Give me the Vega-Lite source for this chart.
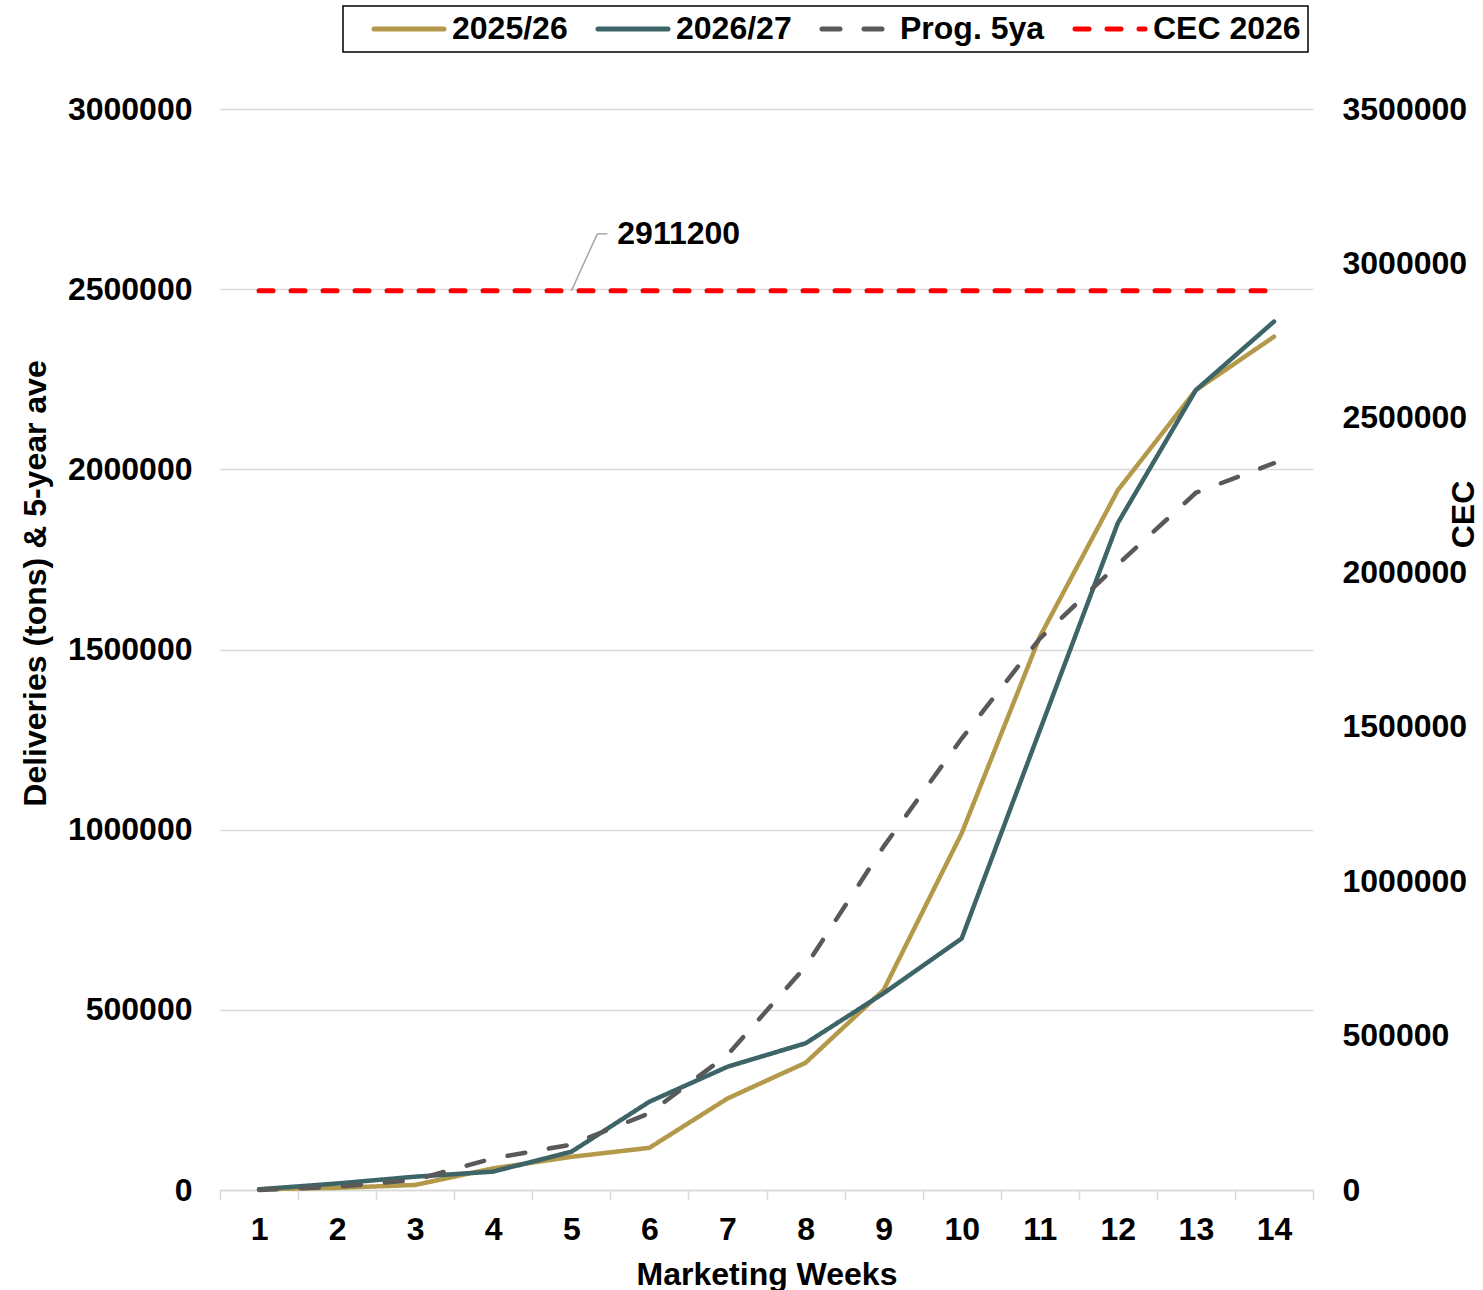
{
  "$schema": "https://vega.github.io/schema/vega-lite/v6.json",
  "width": 1093,
  "height": 1081,
  "autosize": {"type": "none"},
  "padding": {"left": 220, "top": 109, "right": 170, "bottom": 100},
  "background": "white",
  "config": {
    "view": {"stroke": null},
    "font": "Liberation Sans",
    "legend": {"strokeWidth": 1.5}
  },
  "datasets": {
    "deliveries": [
      {"week": 1, "series": "2025/26", "value": 2000},
      {"week": 2, "series": "2025/26", "value": 6000},
      {"week": 3, "series": "2025/26", "value": 14000},
      {"week": 4, "series": "2025/26", "value": 60000},
      {"week": 5, "series": "2025/26", "value": 92000},
      {"week": 6, "series": "2025/26", "value": 117000},
      {"week": 7, "series": "2025/26", "value": 254000},
      {"week": 8, "series": "2025/26", "value": 353000},
      {"week": 9, "series": "2025/26", "value": 555000},
      {"week": 10, "series": "2025/26", "value": 990000},
      {"week": 11, "series": "2025/26", "value": 1535000},
      {"week": 12, "series": "2025/26", "value": 1942000},
      {"week": 13, "series": "2025/26", "value": 2220000},
      {"week": 14, "series": "2025/26", "value": 2368000},
      {"week": 1, "series": "2026/27", "value": 2000},
      {"week": 2, "series": "2026/27", "value": 18000},
      {"week": 3, "series": "2026/27", "value": 37000},
      {"week": 4, "series": "2026/27", "value": 51000},
      {"week": 5, "series": "2026/27", "value": 106000},
      {"week": 6, "series": "2026/27", "value": 245000},
      {"week": 7, "series": "2026/27", "value": 342000},
      {"week": 8, "series": "2026/27", "value": 407000},
      {"week": 9, "series": "2026/27", "value": 546000},
      {"week": 10, "series": "2026/27", "value": 698000},
      {"week": 11, "series": "2026/27", "value": 1275000},
      {"week": 12, "series": "2026/27", "value": 1851000},
      {"week": 13, "series": "2026/27", "value": 2220000},
      {"week": 14, "series": "2026/27", "value": 2410000},
      {"week": 1, "series": "Prog. 5ya", "value": 0},
      {"week": 2, "series": "Prog. 5ya", "value": 9000},
      {"week": 3, "series": "Prog. 5ya", "value": 28000},
      {"week": 4, "series": "Prog. 5ya", "value": 88000},
      {"week": 5, "series": "Prog. 5ya", "value": 126000},
      {"week": 6, "series": "Prog. 5ya", "value": 213000},
      {"week": 7, "series": "Prog. 5ya", "value": 375000},
      {"week": 8, "series": "Prog. 5ya", "value": 620000},
      {"week": 9, "series": "Prog. 5ya", "value": 953000},
      {"week": 10, "series": "Prog. 5ya", "value": 1253000},
      {"week": 11, "series": "Prog. 5ya", "value": 1530000},
      {"week": 12, "series": "Prog. 5ya", "value": 1736000},
      {"week": 13, "series": "Prog. 5ya", "value": 1935000},
      {"week": 14, "series": "Prog. 5ya", "value": 2017000}
    ],
    "cec": [
      {"series": "CEC 2026", "cec": 2911200, "start": 1, "end": 14, "label": "2911200"}
    ]
  },
  "layer": [
    {
      "data": {"name": "deliveries"},
      "mark": {"type": "line", "strokeWidth": 4.5, "strokeCap": "round"},
      "encoding": {
        "x": {
          "field": "week",
          "type": "quantitative",
          "scale": {"domain": [0.5, 14.5], "nice": false, "zero": false},
          "axis": {
            "orient": "bottom",
            "values": [1, 2, 3, 4, 5, 6, 7, 8, 9, 10, 11, 12, 13, 14],
            "format": "d",
            "title": "Marketing Weeks",
            "titleFont": "Liberation Sans",
            "titleFontSize": 32,
            "titleFontWeight": "bold",
            "titleColor": "black",
            "titleBaseline": "alphabetic",
            "titleY": 94,
            "labelFont": "Liberation Sans",
            "labelFontSize": 32,
            "labelFontWeight": "bold",
            "labelColor": "black",
            "labelBaseline": "alphabetic",
            "labelPadding": 49,
            "labelOverlap": false,
            "labelFlush": false,
            "ticks": false,
            "domain": false,
            "grid": false
          }
        },
        "y": {
          "field": "value",
          "type": "quantitative",
          "scale": {"domain": [0, 3000000], "nice": false},
          "axis": {
            "values": [0, 500000, 1000000, 1500000, 2000000, 2500000, 3000000],
            "format": "d",
            "title": "Deliveries (tons) & 5-year ave",
            "titleFont": "Liberation Sans",
            "titleFontSize": 32,
            "titleFontWeight": "bold",
            "titleColor": "black",
            "titleAngle": 270,
            "titleAlign": "center",
            "titleBaseline": "middle",
            "titleX": -185,
            "titleY": 474,
            "labelFont": "Liberation Sans",
            "labelFontSize": 32,
            "labelFontWeight": "bold",
            "labelColor": "black",
            "labelPadding": 28,
            "ticks": false,
            "domain": false,
            "grid": true,
            "gridColor": "#d9d9d9",
            "gridWidth": 1.3
          }
        },
        "color": {
          "field": "series",
          "type": "nominal",
          "scale": {
            "domain": ["2025/26", "2026/27", "Prog. 5ya", "CEC 2026"],
            "range": ["#B5994A", "#3D6567", "#595959", "#FF0000"]
          },
          "legend": {
            "orient": "none",
            "legendX": 123,
            "legendY": -103,
            "direction": "horizontal",
            "columns": 4,
            "title": null,
            "symbolType": "M-3.5,0H3.5",
            "symbolSize": 400,
            "symbolStrokeWidth": 5,
            "symbolOffset": 43,
            "labelOffset": 27,
            "labelFont": "Liberation Sans",
            "labelFontSize": 32,
            "labelFontWeight": "bold",
            "labelColor": "black",
            "labelLimit": 400,
            "columnPadding": 6,
            "padding": 7,
            "strokeColor": "black",
            "fillColor": "white",
            "encode": {"symbols": {"update": {"strokeCap": {"value": "round"}}}}
          }
        },
        "strokeDash": {
          "field": "series",
          "type": "nominal",
          "scale": {
            "domain": ["2025/26", "2026/27", "Prog. 5ya", "CEC 2026"],
            "range": [[1, 0], [1, 0], [18, 24], [14, 18]]
          }
        }
      }
    },
    {
      "data": {"name": "cec"},
      "layer": [
        {
          "mark": {"type": "rule", "strokeWidth": 5, "strokeCap": "round"},
          "encoding": {
            "x": {
              "field": "start",
              "type": "quantitative",
              "axis": {
                "orient": "bottom",
                "values": [0.5, 1.5, 2.5, 3.5, 4.5, 5.5, 6.5, 7.5, 8.5, 9.5, 10.5, 11.5, 12.5, 13.5, 14.5],
                "labels": false,
                "title": null,
                "ticks": true,
                "tickSize": 10,
                "tickColor": "#d9d9d9",
                "tickWidth": 1.5,
                "domain": true,
                "domainColor": "#d9d9d9",
                "domainWidth": 1.5,
                "grid": false
              }
            },
            "x2": {"field": "end"},
            "y": {
              "field": "cec",
              "type": "quantitative",
              "scale": {"domain": [0, 3500000], "nice": false},
              "axis": {
                "orient": "right",
                "values": [0, 500000, 1000000, 1500000, 2000000, 2500000, 3000000, 3500000],
                "format": "d",
                "title": "CEC",
                "titleFont": "Liberation Sans",
                "titleFontSize": 32,
                "titleFontWeight": "bold",
                "titleColor": "black",
                "titleAngle": 270,
                "titleAlign": "center",
                "titleBaseline": "middle",
                "titleX": 150,
                "titleY": 405,
                "labelFont": "Liberation Sans",
                "labelFontSize": 32,
                "labelFontWeight": "bold",
                "labelColor": "black",
                "labelAlign": "left",
                "labelPadding": 29,
                "ticks": false,
                "domain": false,
                "grid": false
              }
            },
            "color": {
              "field": "series",
              "type": "nominal",
              "scale": {
                "domain": ["2025/26", "2026/27", "Prog. 5ya", "CEC 2026"],
                "range": ["#B5994A", "#3D6567", "#595959", "#FF0000"]
              }
            },
            "strokeDash": {
              "field": "series",
              "type": "nominal",
              "scale": {
                "domain": ["2025/26", "2026/27", "Prog. 5ya", "CEC 2026"],
                "range": [[1, 0], [1, 0], [18, 24], [14, 18]]
              }
            }
          }
        },
        {
          "mark": {"type": "rule", "color": "#a6a6a6", "strokeWidth": 1.5, "x2Offset": 26, "y2Offset": -57},
          "encoding": {
            "x": {"datum": 5},
            "x2": {"datum": 5},
            "y": {"field": "cec", "type": "quantitative"},
            "y2": {"field": "cec"}
          }
        },
        {
          "mark": {"type": "rule", "color": "#a6a6a6", "strokeWidth": 1.5, "xOffset": 26, "x2Offset": 36, "yOffset": -57},
          "encoding": {
            "x": {"datum": 5},
            "x2": {"datum": 5},
            "y": {"field": "cec", "type": "quantitative"}
          }
        },
        {
          "mark": {"type": "text", "dx": 46, "dy": -57, "align": "left", "baseline": "middle", "font": "Liberation Sans", "fontSize": 32, "fontWeight": "bold", "color": "black"},
          "encoding": {
            "x": {"datum": 5},
            "y": {"field": "cec", "type": "quantitative"},
            "text": {"field": "label"}
          }
        }
      ]
    }
  ],
  "resolve": {"scale": {"y": "independent"}, "axis": {"x": "independent"}}
}
